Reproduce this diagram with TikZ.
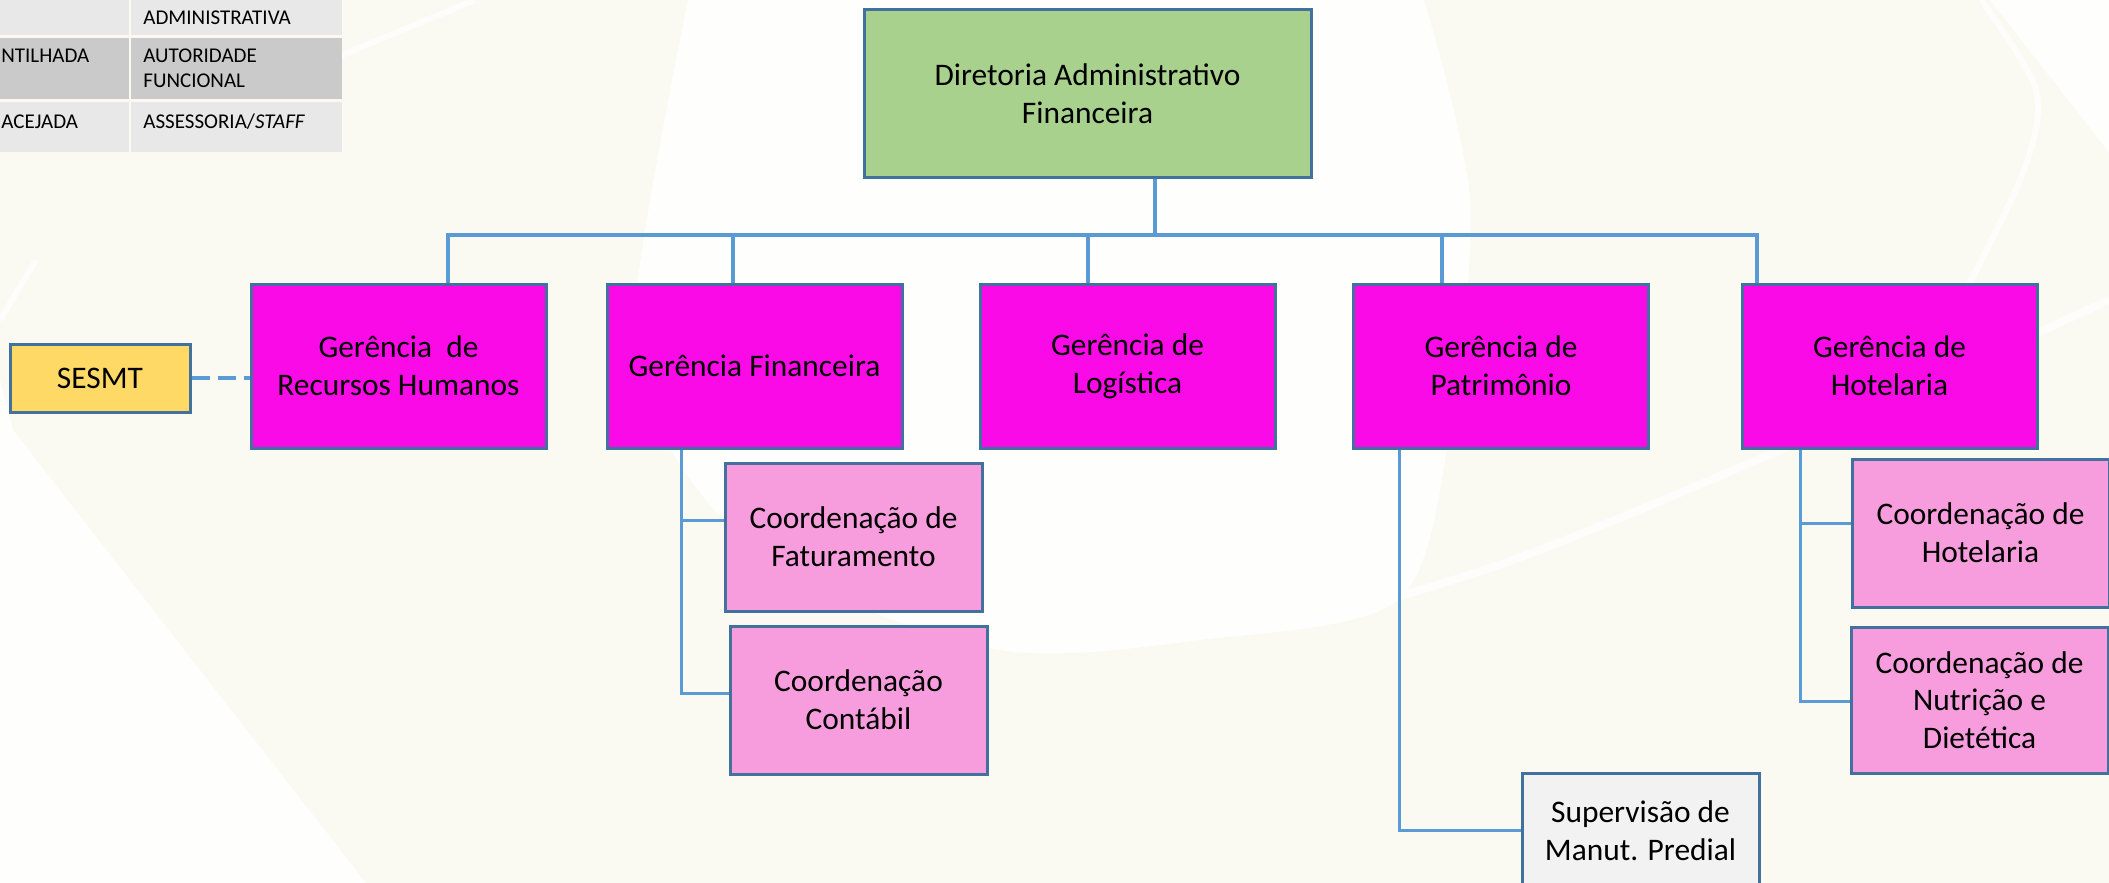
\documentclass[tikz,border=0pt]{standalone}
\usepackage{fontspec}
\setmainfont{Carlito}
\usepackage{tikz}
\usetikzlibrary{calc}
\definecolor{BoxLine}{HTML}{41719C}
\definecolor{LinkBlue}{HTML}{5B9BD5}
\definecolor{DirGreen}{HTML}{A9D18E}
\definecolor{GerMagenta}{HTML}{F90AE6}
\definecolor{CoordPink}{HTML}{F79DDE}
\definecolor{SesmtYellow}{HTML}{FFD966}
\definecolor{SupGray}{HTML}{F2F2F2}
\definecolor{PageCream}{HTML}{FAF9F2}
\definecolor{TabLight}{HTML}{E8E8E8}
\definecolor{TabDark}{HTML}{CACACA}

\begin{document}
\begin{tikzpicture}[x=0.5pt,y=-0.5pt,
  every node/.style={font=\fontsize{15.7pt}{18.8pt}\selectfont},
  box/.style={draw=BoxLine,line width=1.5pt,align=center,inner sep=0pt},
  ger/.style={box,fill=GerMagenta,minimum width=147.5pt,minimum height=82pt},
  coord/.style={box,fill=CoordPink,minimum width=128.5pt,minimum height=74pt},
  link/.style={LinkBlue,line width=2pt},
  sublink/.style={LinkBlue,line width=1.5pt},
  swoosh/.style={white,opacity=0.8,line width=3pt},
  tab/.style={font=\fontsize{10.5pt}{12.5pt}\selectfont,inner sep=0pt,align=left,anchor=base west}]
\useasboundingbox (0,0) rectangle (2109,883);
% background
\fill[PageCream] (0,0) rectangle (2109,883);
\fill[white,opacity=0.85] (0,380) -- (13,430) -- (366,883) -- (0,883) -- cycle;
\fill[white,opacity=0.85] (690,-5) -- (1424,-5) -- plot[smooth] coordinates {(1424,0) (1470,200) (1450,430) (1398,600) (1200,640) (1000,650) (780,570) (665,440) (636,300) (688,0)} -- cycle;
\fill[white,opacity=0.85] (1986,-5) -- (2115,160) -- (2115,-5) -- cycle;
\draw[swoosh] plot[smooth] coordinates {(1981,0) (2036,90) (2024,170) (1966,290)};
\draw[swoosh,line width=4pt] plot[smooth] coordinates {(1300,625) (1513,560) (1780,450) (2109,300)};
\draw[swoosh] (330,60) -- (475,0);
\draw[swoosh] (36,260) -- (0,320);

% legend table
\fill[TabLight] (-5,-5) rectangle (129,35);
\fill[TabLight] (131,-5) rectangle (342,35);
\fill[TabDark] (-5,38) rectangle (129,99);
\fill[TabDark] (131,38) rectangle (342,99);
\fill[TabLight] (-5,102) rectangle (129,152);
\fill[TabLight] (131,102) rectangle (342,152);
\node[tab] (t1b) at (143,25) {ADMINISTRATIVA};
\node[tab] (t2a) at (1,63) {NTILHADA};
\node[tab] (t2b) at (143,88) {AUTORIDADE\\FUNCIONAL};
\node[tab] (t3a) at (1,128) {ACEJADA};
\node[tab] (t3b) at (143,128) {ASSESSORIA/\textit{STAFF}};

% boxes
\node[box,fill=DirGreen,minimum width=223.5pt,minimum height=83.5pt] (dir) at (1087.5,93.5) {Diretoria Administrativo\\Financeira};
\node[ger] (grh) at (398.5,366) {Gerência\ \ de\\Recursos Humanos};
\node[ger] (gfin) at (754.5,366) {Gerência Financeira};
\node[ger] (glog) at (1127.5,366) {Gerência de\\Logística};
\node[ger] (gpat) at (1501,366) {Gerência de\\Patrimônio};
\node[ger] (ghot) at (1889.5,366) {Gerência de\\Hotelaria};
\node[box,fill=SesmtYellow,minimum width=90pt,minimum height=34pt] (sesmt) at (100,378) {SESMT};
\node[coord] (cfat) at (853.5,537) {Coordenação de\\Faturamento};
\node[coord] (ccont) at (858.5,700) {Coordenação\\Contábil};
\node[coord] (chot) at (1980.5,533) {Coordenação de\\Hotelaria};
\node[coord,minimum height=73pt] (cnut) at (1979.5,700) {Coordenação de\\Nutrição e\\Dietética};
\node[box,fill=SupGray,minimum width=118.5pt,minimum height=57.5pt] (sup) at (1640.5,830.5) {Supervisão de\\Manut. Predial};

% links
\coordinate (bus) at (1155,235);
\coordinate (busL) at (448,235);
\coordinate (busR) at (1757,235);
\draw[link] (dir.south -| bus) -- (bus);
\draw[link] (busL |- grh.north) -- (busL) -- (busR) -- (busR |- ghot.north);
\foreach \n/\t in {gfin/733,glog/1088,gpat/1442} {
  \coordinate (t\n) at (\t,235);
  \draw[link] (t\n) -- (t\n |- \n.north);
}
\draw[link,dash pattern=on 9pt off 4pt] (sesmt.east) -- (sesmt.east -| grh.west);

\coordinate (finA) at (681,520);
\coordinate (finB) at (681,693);
\draw[sublink] (gfin.south -| finB) -- (finB) -- (finB -| ccont.west);
\draw[sublink] (finA) -- (finA -| cfat.west);
\coordinate (patB) at (1399,830.5);
\draw[sublink] (gpat.south -| patB) -- (patB) -- (sup.west);
\coordinate (hotA) at (1800,523);
\coordinate (hotB) at (1800,701);
\draw[sublink] (ghot.south -| hotB) -- (hotB) -- (hotB -| cnut.west);
\draw[sublink] (hotA) -- (hotA -| chot.west);
\end{tikzpicture}
\end{document}
